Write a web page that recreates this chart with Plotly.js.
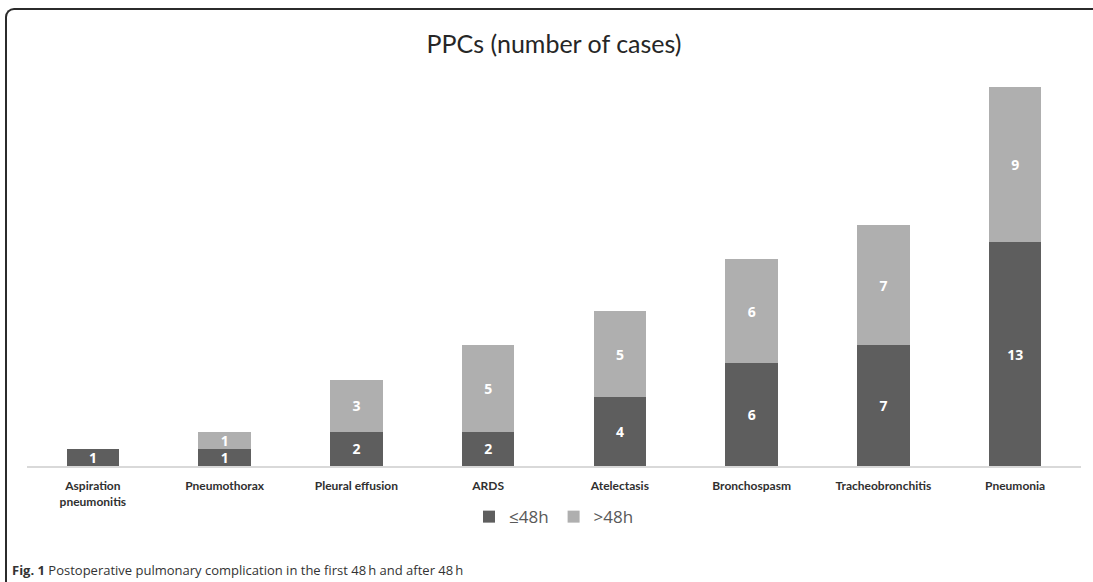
<!DOCTYPE html>
<html>
<head>
<meta charset="utf-8">
<script src="https://cdn.plot.ly/plotly-3.0.1.min.js"></script>
<style>
  html, body { margin: 0; padding: 0; background: #fff; }
  #wrap { position: relative; width: 1093px; height: 582px; overflow: hidden; }
  #frame {
    position: absolute; left: 5px; top: 8px; width: 1200px; height: 700px;
    border-left: 2px solid #2b2b2b; border-top: 2px solid #2b2b2b;
    border-top-left-radius: 9px; box-sizing: border-box; pointer-events: none;
  }
  #chart { position: absolute; left: 0; top: 0; width: 1093px; height: 582px; }
</style>
</head>
<body>
<div id="wrap">
  <div id="chart"></div>
  <div id="frame"></div>
</div>
<script>
// Postoperative pulmonary complications, split by time of onset
const categories = [
  'Aspiration<br>pneumonitis', 'Pneumothorax', 'Pleural effusion', 'ARDS',
  'Atelectasis', 'Bronchospasm', 'Tracheobronchitis', 'Pneumonia'
];
const within48h = [1, 1, 2, 2, 4, 6, 7, 13];
const after48h  = [0, 1, 3, 5, 5, 6, 7, 9];
const seriesNames = ['≤48h', '>48h'];

const labelOf = v => (v > 0 ? String(v) : '');

const barStyle = {
  type: 'bar',
  textposition: 'inside',
  insidetextanchor: 'middle',
  constraintext: 'none',
  textangle: 0,
  textfont: { family: 'Open Sans, sans-serif', size: 14, color: '#ffffff', weight: 'bold' },
  hoverinfo: 'x+y+name'
};

const traces = [
  Object.assign({}, barStyle, {
    name: seriesNames[0], x: categories, y: within48h,
    text: within48h.map(labelOf),
    marker: { color: '#5e5e5e' }
  }),
  Object.assign({}, barStyle, {
    name: seriesNames[1], x: categories, y: after48h,
    text: after48h.map(labelOf),
    marker: { color: '#afafaf' }
  })
];

const layout = {
  width: 1093, height: 582,
  margin: { l: 27, r: 12, t: 70, b: 116 },
  paper_bgcolor: '#ffffff', plot_bgcolor: '#ffffff',
  barmode: 'stack',
  bargap: 0.6,
  showlegend: true,
  title: {
    text: 'PPCs (number of cases)',
    x: 0.5, xanchor: 'center', xref: 'paper',
    y: 1 - 44 / 582, yref: 'container', yanchor: 'middle',
    font: { family: 'Lato, sans-serif', size: 25, color: '#262626' }
  },
  xaxis: {
    type: 'category',
    showline: true, linecolor: '#d9d9d9', linewidth: 2,
    showgrid: false, zeroline: false, ticks: '',
    ticklabelstandoff: 8,
    tickfont: { family: 'Lato, sans-serif', size: 12, color: '#303030', weight: 'bold' },
    fixedrange: true
  },
  yaxis: {
    range: [0, 23],
    visible: false, showgrid: false, zeroline: false,
    fixedrange: true
  },
  legend: {
    orientation: 'h',
    x: 0.5, xanchor: 'center',
    y: -0.129, yanchor: 'middle',
    font: { family: 'Open Sans, sans-serif', size: 17, color: '#595959' },
    itemwidth: 30,
    traceorder: 'normal'
  },
  annotations: [{
    xref: 'paper', yref: 'paper',
    x: -0.016, y: -0.263, xanchor: 'left', yanchor: 'middle',
    showarrow: false,
    text: '<b>Fig. 1</b> Postoperative pulmonary complication in the first 48\u2009h and after 48\u2009h',
    font: { family: 'Open Sans, sans-serif', size: 13, color: '#333333' }
  }]
};

Plotly.newPlot('chart', traces, layout, { displayModeBar: false, staticPlot: true });
</script>
</body>
</html>
